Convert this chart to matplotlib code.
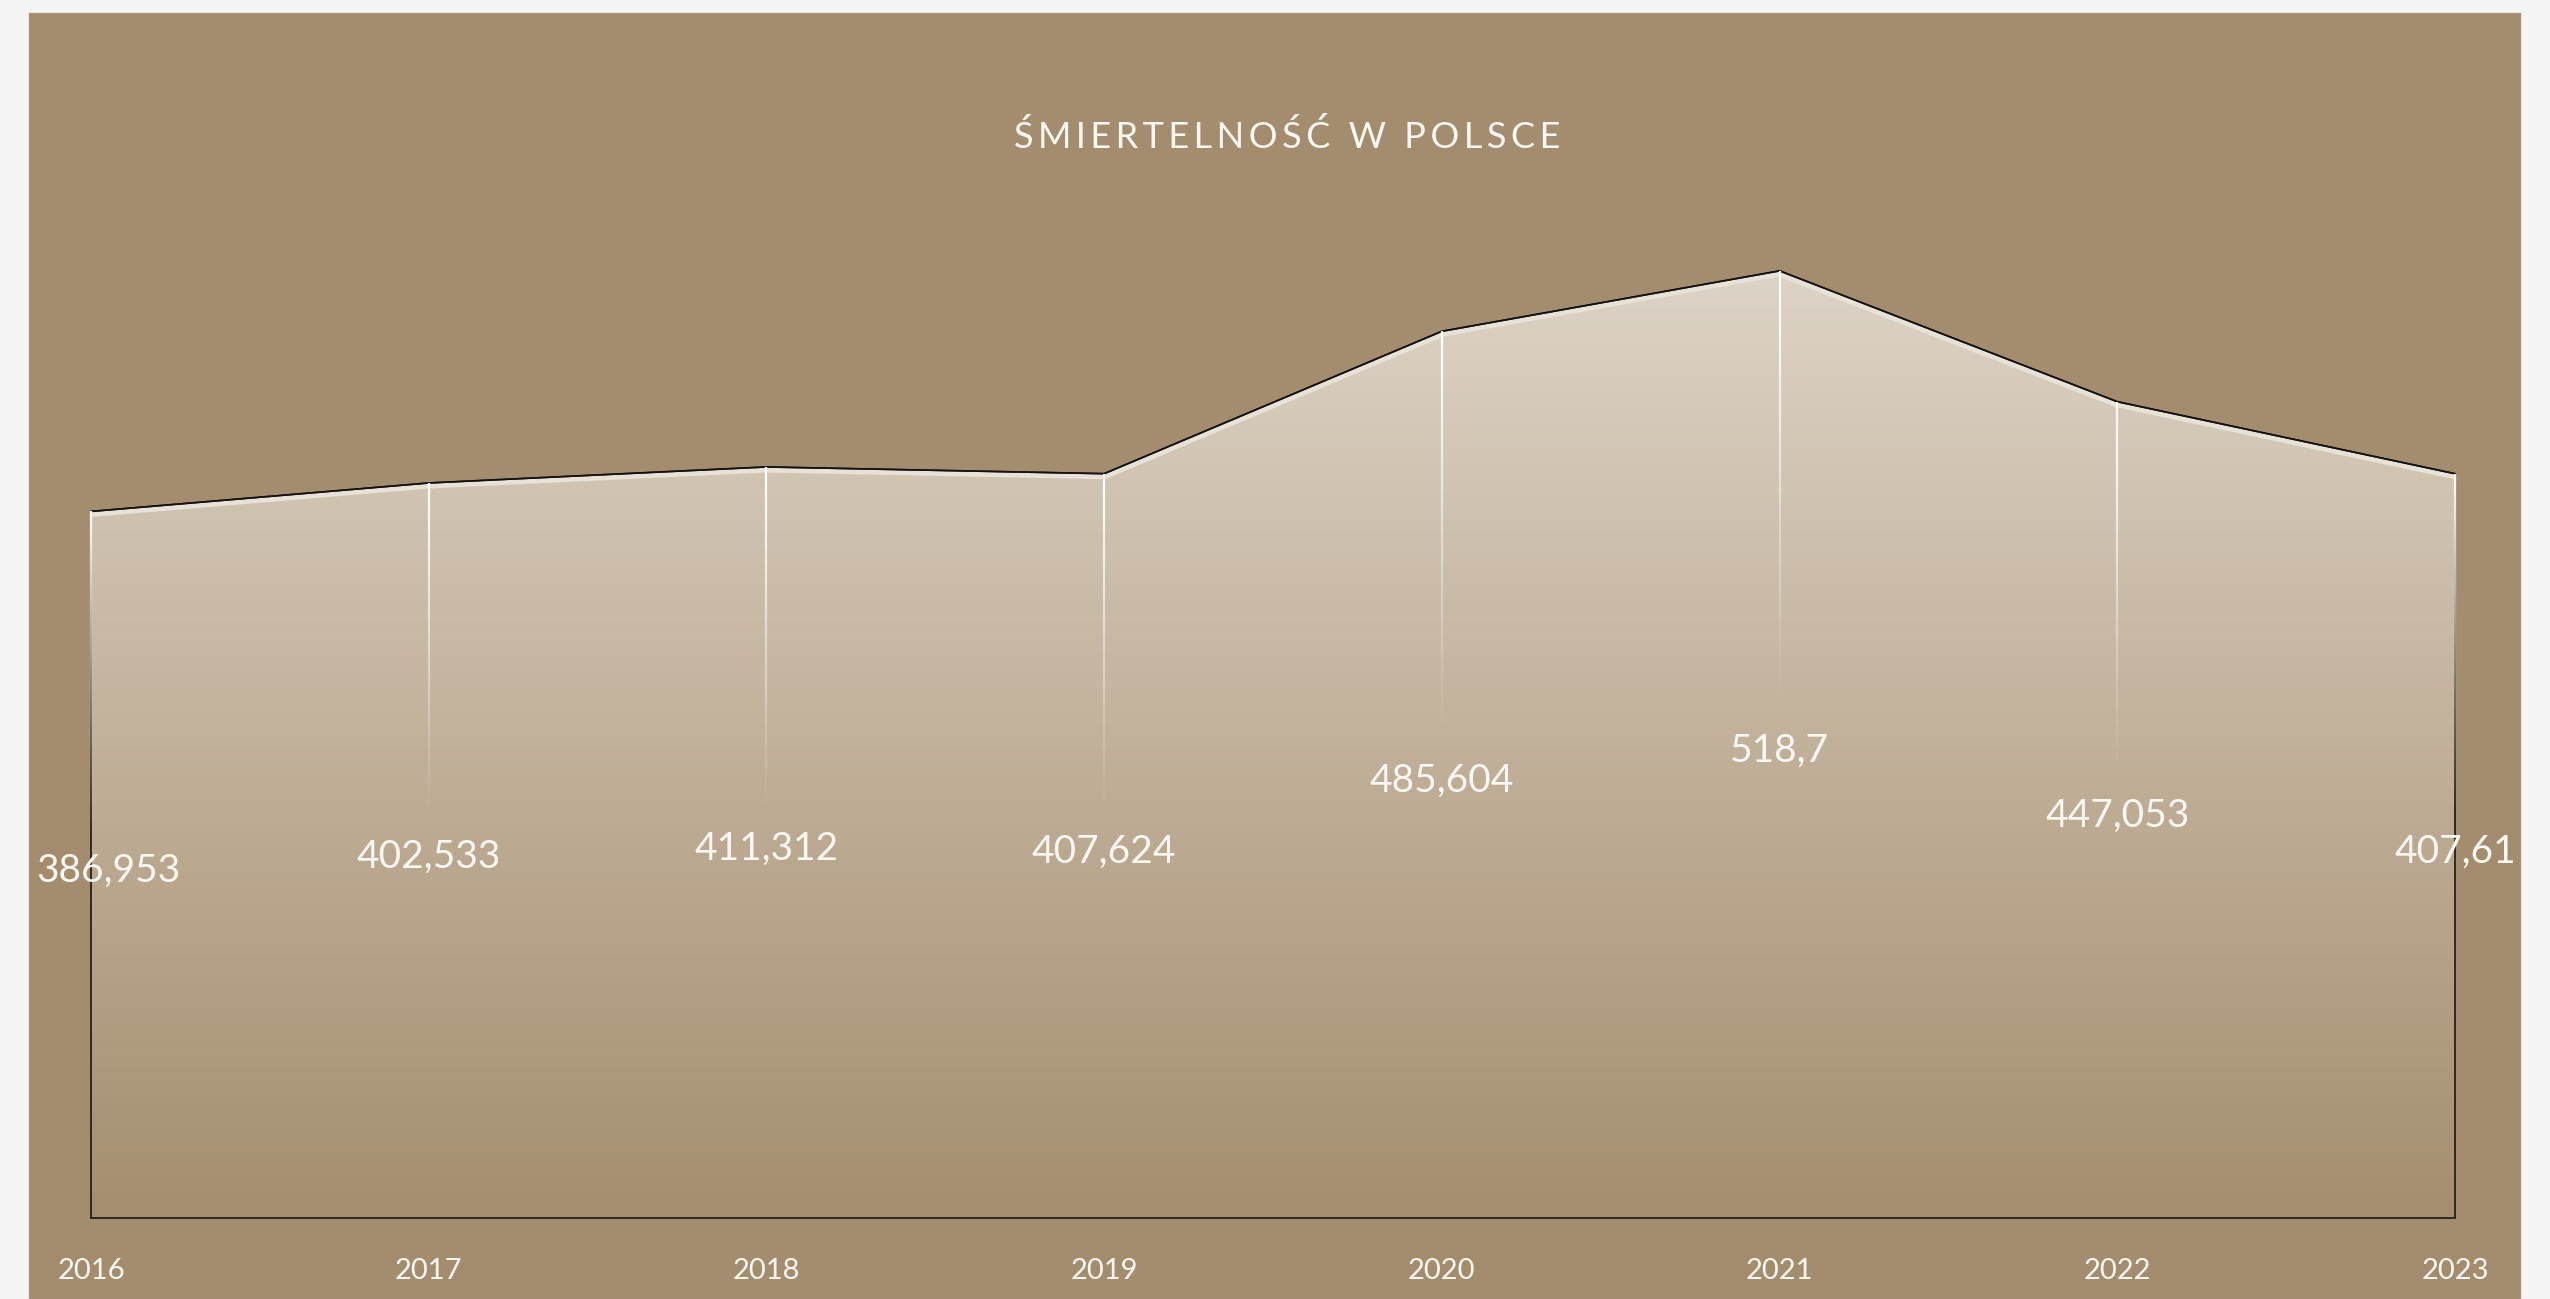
import numpy as np
import matplotlib
matplotlib.use("Agg")
import matplotlib.pyplot as plt
from matplotlib.colors import LinearSegmentedColormap
from matplotlib.patches import Polygon, Rectangle
from matplotlib.collections import LineCollection
from matplotlib.transforms import offset_copy

# ── data (deaths in Poland, thousands) ──────────────────────────────────
years = ["2016", "2017", "2018", "2019", "2020", "2021", "2022", "2023"]
deaths = [386.953, 402.533, 411.312, 407.624, 485.604, 518.7, 447.053, 407.61]
title = "ŚMIERTELNOŚĆ W POLSCE"

BG = "#f3f4f3"
PANEL = "#a48d6e"
TXT = "#fbf8f3"
FONT = ["Lato", "DejaVu Sans"]

W, H = 2550, 1299
fig = plt.figure(figsize=(W / 100, H / 100), dpi=100, facecolor=BG)

# brown card
fig.patches.append(Rectangle((28 / W, 0), (2521 - 28) / W, 1 - 12 / H,
                             transform=fig.transFigure, facecolor=PANEL,
                             edgecolor="#e9e4dc", linewidth=0.8, zorder=-5))

# axes: bottom at y=1218px, 1000px tall
ax = fig.add_axes([91 / W, 1 - 1218 / H, (2455 - 91) / W, 1000 / H])
ax.set_zorder(2)
ax.set_facecolor("none")
px = 1.826  # pixels per thousand deaths
ax.set_xlim(0, len(years) - 1)
ax.set_ylim(0, 1000 / px)
ax.axis("off")

x = np.arange(len(years))
v = np.array(deaths)

# ── gradient-filled area ────────────────────────────────────────────────
poly_xy = [(x[0], 0)] + list(zip(x, v)) + [(x[-1], 0)]
poly = Polygon(poly_xy, closed=True, facecolor="none", edgecolor="#1a1712",
               linewidth=1.2, zorder=4, clip_on=False)
ax.add_patch(poly)

cmap = LinearSegmentedColormap.from_list("fill", ["#a58e6f", "#c3b29c", "#dfd6ca"])
grad = np.linspace(0, 1, 256).reshape(-1, 1)
im = ax.imshow(grad, cmap=cmap, origin="lower", aspect="auto",
               extent=[x[0], x[-1], 0, 540], zorder=1)
im.set_clip_path(poly)

# soft light band under the top edge
hl, = ax.plot(x, v, color="#e8e1d7", linewidth=8, zorder=2, solid_joinstyle="round")
hl.set_clip_path(poly)
ax.plot(x, v, color="#141210", linewidth=1.2, zorder=5, clip_on=False)

# ── fading white drop lines ─────────────────────────────────────────────
n = 80
for xi, vi in zip(x, v):
    ys = np.linspace(vi, vi * 0.54, n + 1)
    segs = [[(xi, ys[k]), (xi, ys[k + 1])] for k in range(n)]
    alphas = np.linspace(1, 0, n) ** 1.1
    cols = [(1, 1, 1, a) for a in alphas]
    ax.add_collection(LineCollection(segs, colors=cols, linewidths=1.6,
                                     zorder=6, clip_on=False))

# ── value labels at half height ─────────────────────────────────────────
for i, (xi, vi) in enumerate(zip(x, v)):
    lab = f"{vi:g}".replace(".", ",")
    if i == 0:
        # first label is pushed inside the card
        tr = offset_copy(ax.transData, fig=fig, x=-55, y=0, units="dots")
        ha = "left"
    else:
        tr, ha = ax.transData, "center"
    ax.text(xi, vi / 2 - 6 / px, lab, ha=ha, va="center", color=TXT,
            fontsize=28, family=FONT, zorder=7, clip_on=False, transform=tr)

# ── year labels ─────────────────────────────────────────────────────────
for xi, yr in zip(x, years):
    ax.text(xi, -53 / px, yr, ha="center", va="center", color=TXT,
            fontsize=21, family=FONT, clip_on=False)

spaced = "\u2009".join(title)
fig.text(1287 / W, 1 - 136 / H, spaced, ha="center", va="center",
         color=TXT, fontsize=26, family=FONT)

fig.savefig("out.png", dpi=100, facecolor=BG)
